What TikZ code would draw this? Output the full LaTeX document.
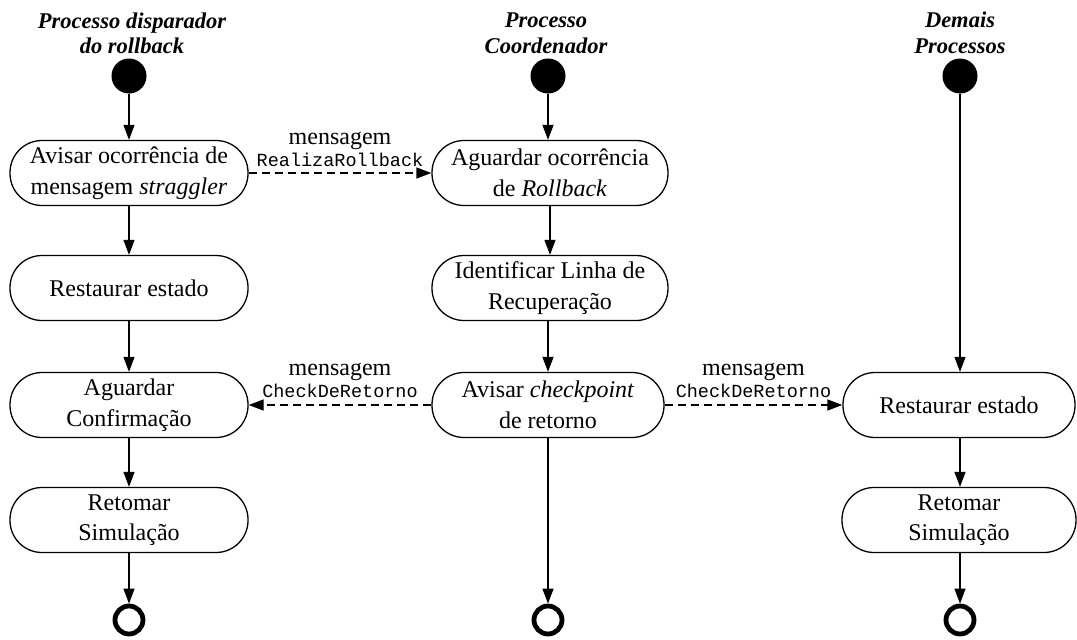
\documentclass[tikz,border=0pt]{standalone}
\usepackage{fontspec}
\setmainfont{Liberation Serif}
\setmonofont{Liberation Mono}
\usetikzlibrary{arrows.meta,calc}

\begin{document}
\begin{tikzpicture}[x=1pt,y=-1pt,
  every node/.style={inner sep=0pt},
  act/.style={draw, line width=1.3pt, rounded corners=32pt,
    minimum width=236pt, minimum height=65pt, align=center,
    font=\fontsize{24}{30.5}\selectfont},
  lane/.style={anchor=base, font=\fontsize{22.5}{25}\selectfont\bfseries\itshape},
  initial/.style={circle, fill=black, minimum size=35pt},
  final/.style={circle, draw, line width=4.8pt, minimum size=28pt},
  flow/.style={line width=1.3pt, -{Triangle[length=15pt,width=11pt]}},
  msg/.style={line width=1.3pt, dash pattern=on 8pt off 5pt,
    -{Triangle[length=15pt,width=11pt]}},
  msgword/.style={anchor=base, font=\fontsize{24}{28}\selectfont},
  msgname/.style={anchor=base, font=\fontsize{18.5}{22}\selectfont\ttfamily},
]
\useasboundingbox (0,0) rectangle (1077,640);

% swimlane headings
\node[lane] (h1a) at (132,28) {Processo disparador};
\node[lane] (h1b) at (132,53) {do rollback};
\node[lane] (h2a) at (546,27) {Processo};
\node[lane] (h2b) at (546,53) {Coordenador};
\node[lane] (h3a) at (960,27) {Demais};
\node[lane] (h3b) at (960,53) {Processos};

% initial states
\node[initial] (s1) at (129,76) {};
\node[initial] (s2) at (548,76) {};
\node[initial] (s3) at (960,76) {};

% triggering process
\node[act, minimum width=238pt] (a1) at (129,173) {Avisar ocorrência de\\mensagem \textit{straggler}};
\node[act, minimum width=238pt] (a2) at (129,288) {Restaurar estado};
\node[act, minimum width=238pt] (a3) at (129,405) {Aguardar\\Confirmação};
\node[act, minimum width=238pt] (a4) at (129,520) {Retomar\\Simulação};
\node[final] (e1) at (129,620) {};

% coordinator
\node[act] (b1) at (550,173) {Aguardar ocorrência\\de \textit{Rollback}};
\node[act] (b2) at (550,288) {Identificar Linha de\\Recuperação};
\node[act, minimum width=232pt] (b3) at (548,405) {Avisar \textit{checkpoint}\\de retorno};
\node[final] (e2) at (548,620) {};

% other processes
\node[act, minimum width=232pt] (c3) at (959,405) {Restaurar estado};
\node[act, minimum width=234pt] (c4) at (959,520) {Retomar\\Simulação};
\node[final] (e3) at (960,620) {};

% control flow
\draw[flow] (s1) -- (a1);
\draw[flow] (a1) -- (a2);
\draw[flow] (a2) -- (a3);
\draw[flow] (a3) -- (a4);
\draw[flow] (a4) -- (e1);

\draw[flow] (s2) -- (s2 |- b1.north);
\draw[flow] (b1) -- (b1 |- b2.north);
\draw[flow] (b2.south -| s2) -- (s2 |- b3.north);
\draw[flow] (b3) -- (e2);

\draw[flow] (s3) -- (s3 |- c3.north);
\draw[flow] (c3.south -| s3) -- (s3 |- c4.north);
\draw[flow] (c4.south -| s3) -- (e3);

% messages
\draw[msg] (a1) -- (b1);
\draw[msg] (b3) -- (a3);
\draw[msg] (b3) -- (c3);

\coordinate (m1) at ($(a1.east)!0.5!(b1.west)$);
\coordinate (m2) at ($(a3.east)!0.5!(b3.west)$);
\coordinate (m3) at ($(b3.east)!0.5!(c3.west)$);

\node[msgword] (w1) at ($(m1)+(0,-29)$) {mensagem};
\node[msgname] (n1) at ($(m1)+(0,-7)$) {RealizaRollback};
\node[msgword] (w2) at ($(m2)+(0,-30)$) {mensagem};
\node[msgname] (n2) at ($(m2)+(0,-8)$) {CheckDeRetorno};
\node[msgword] (w3) at ($(m3)+(0,-30)$) {mensagem};
\node[msgname] (n3) at ($(m3)+(0,-8)$) {CheckDeRetorno};
\end{tikzpicture}
\end{document}
